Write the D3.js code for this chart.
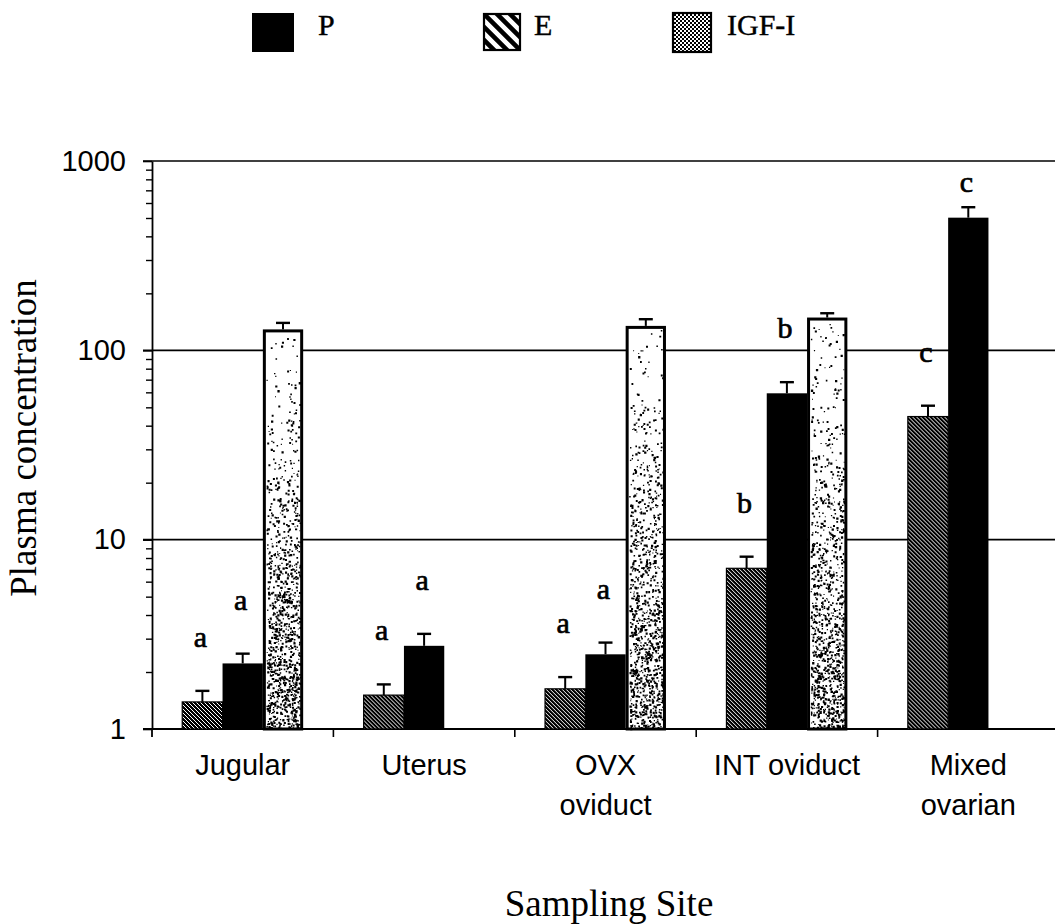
<!DOCTYPE html>
<html>
<head>
<meta charset="utf-8">
<script src="https://cdn.jsdelivr.net/npm/d3@7"></script>
<style>
  body { margin: 0; background: #fff; }
  svg { display: block; }
  text { fill: #000; }
</style>
</head>
<body>
<svg id="chart" width="1055" height="924"></svg>
<script>
// Sampling sites (x categories) and their printed labels
const siteKeys   = ["Jugular", "Uterus", "OVX oviduct", "INT oviduct", "Mixed ovarian"];
const siteLabels = [["Jugular"], ["Uterus"], ["OVX", "oviduct"], ["INT oviduct"], ["Mixed", "ovarian"]];

// Series drawn inside each group, left to right
const seriesKeys  = ["E", "P", "IGF-I"];
const legendOrder = ["P", "E", "IGF-I"];

// Estradiol (E)
const eMean    = [1.39, 1.51, 1.63, 7.06, 44.7];
const eSem     = [0.20, 0.21, 0.25, 1.07, 6.3];
const eLetters = ["a", "a", "a", "b", "c"];

// Progesterone (P)
const pMean    = [2.22, 2.75, 2.48, 59.3, 502];
const pSem     = [0.28, 0.43, 0.38, 8.6, 68];
const pLetters = ["a", "a", "a", "b", "c"];

// IGF-I (not measured at every site)
const igfMean    = [129, null, 134.6, 149, null];
const igfSem     = [10.6, null, 11.4, 8, null];
const igfLetters = [null, null, null, null, null];

// Axis ticks
const yMajorTicks = [1, 10, 100, 1000];
const yTickLabels = ["1", "10", "100", "1000"];
const yGridValues = [10, 100, 1000];

const SANS  = "'Liberation Sans', Arial, sans-serif";
const SERIF = "'Liberation Serif', 'Times New Roman', serif";

const svg = d3.select("#chart");
const W = 1055, H = 924;
const plot = { left: 152, right: 1059, top: 161, bottom: 729 };

const x = d3.scaleBand().domain(siteKeys).range([plot.left, plot.right]).paddingInner(0).paddingOuter(0);
const bw = x.bandwidth();
const xs = d3.scaleBand().domain(seriesKeys).range([bw / 6, bw * 5 / 6]);
const y = d3.scaleLog().domain([1, 1000]).range([plot.bottom, plot.top]);

const rows = siteKeys.map((k, i) => ({
  site: k,
  bars: [
    { key: "E", mean: eMean[i], sem: eSem[i], letter: eLetters[i] },
    { key: "P", mean: pMean[i], sem: pSem[i], letter: pLetters[i] },
    { key: "IGF-I", mean: igfMean[i], sem: igfSem[i], letter: igfLetters[i] }
  ].filter(b => b.mean != null)
}));

// ---------- fill patterns ----------
const defs = svg.append("defs");

// fine diagonal hatch for E bars
const hw = 4;
const hatch = defs.append("pattern").attr("id", "hatch")
  .attr("patternUnits", "userSpaceOnUse").attr("width", hw).attr("height", hw);
hatch.append("rect").attr("width", hw).attr("height", hw).attr("fill", "#fff");
hatch.append("path")
  .attr("d", `M0,0L${hw},${hw}M-1,${hw - 1}L1,${hw + 1}M${hw - 1},-1L${hw + 1},1`)
  .attr("stroke", "#000").attr("stroke-width", 1.5).attr("shape-rendering", "crispEdges");

// coarse diagonal hatch for the E legend swatch
const bigW = 13;
const hatchBig = defs.append("pattern").attr("id", "hatchBig")
  .attr("patternUnits", "userSpaceOnUse").attr("width", bigW).attr("height", bigW)
  .attr("x", 483).attr("y", 13);
hatchBig.append("rect").attr("width", bigW).attr("height", bigW).attr("fill", "#fff");
hatchBig.append("path")
  .attr("d", `M0,0L${bigW},${bigW}M-4,${bigW - 4}L4,${bigW + 4}M${bigW - 4},-4L${bigW + 4},4`)
  .attr("stroke", "#000").attr("stroke-width", 4.6);

// checker dither for the IGF-I legend swatch
const checker = defs.append("pattern").attr("id", "checker")
  .attr("patternUnits", "userSpaceOnUse").attr("width", 4).attr("height", 4);
checker.append("rect").attr("width", 4).attr("height", 4).attr("fill", "#fff");
checker.append("rect").attr("width", 2).attr("height", 2).attr("fill", "#000");
checker.append("rect").attr("x", 2).attr("y", 2).attr("width", 2).attr("height", 2).attr("fill", "#000");

// ---------- legend ----------
const legend = svg.append("g").attr("class", "legend");
const legendSlots = { "P": 252, "E": 483, "IGF-I": 672 };
legendOrder.forEach(k => {
  const lx = legendSlots[k];
  const g = legend.append("g");
  if (k === "P") {
    g.append("rect").attr("x", lx).attr("y", 13).attr("width", 42).attr("height", 39).attr("fill", "#000");
    g.append("text").attr("x", lx + 66).attr("y", 35);
  } else if (k === "E") {
    g.append("rect").attr("x", lx + 1).attr("y", 14).attr("width", 36).attr("height", 36)
      .attr("fill", "url(#hatchBig)").attr("stroke", "#000").attr("stroke-width", 2.2);
    g.append("text").attr("x", lx + 51).attr("y", 35);
  } else {
    g.append("rect").attr("x", lx + 1).attr("y", 13).attr("width", 38).attr("height", 39)
      .attr("fill", "url(#checker)").attr("stroke", "#000").attr("stroke-width", 2.2);
    g.append("text").attr("x", lx + 55).attr("y", 35);
  }
  g.select("text").text(k).attr("font-family", SERIF).attr("font-size", 30)
    .attr("stroke", "#000").attr("stroke-width", 0.4);
});

// ---------- grid lines ----------
svg.append("g").selectAll("line").data(yGridValues).join("line")
  .attr("x1", plot.left - 9).attr("x2", W)
  .attr("y1", d => y(d)).attr("y2", d => y(d))
  .attr("stroke", "#000").attr("stroke-width", 1.6);

// ---------- y axis ----------
const minorTicks = [];
[1, 10, 100].forEach(dec => { for (let m = 2; m <= 9; m++) minorTicks.push(dec * m); });

const yAxisMajor = d3.axisLeft(y).tickValues(yMajorTicks).tickSize(9).tickSizeOuter(0)
  .tickFormat((d, i) => yTickLabels[i]).tickPadding(17);
const gy = svg.append("g").attr("transform", `translate(${plot.left},0)`).call(yAxisMajor);
gy.select(".domain").attr("stroke-width", 1.8);
gy.selectAll(".tick line").attr("stroke-width", 1.6);
gy.selectAll(".tick text").attr("font-family", SANS).attr("font-size", 29).attr("fill", "#000");

const gyMinor = svg.append("g").attr("transform", `translate(${plot.left},0)`)
  .call(d3.axisLeft(y).tickValues(minorTicks).tickSize(6).tickSizeOuter(0).tickFormat(""));
gyMinor.select(".domain").remove();
gyMinor.selectAll(".tick line").attr("stroke-width", 1.4);

// axis extends a little below the base line
svg.append("line").attr("x1", plot.left).attr("x2", plot.left)
  .attr("y1", y(1)).attr("y2", y(1) + 8).attr("stroke", "#000").attr("stroke-width", 1.8);

// ---------- x axis ----------
svg.append("line").attr("x1", plot.left - 9).attr("x2", W)
  .attr("y1", y(1)).attr("y2", y(1)).attr("stroke", "#000").attr("stroke-width", 1.8);
svg.append("g").selectAll("line").data(siteKeys.slice(1)).join("line")
  .attr("x1", d => x(d)).attr("x2", d => x(d))
  .attr("y1", y(1)).attr("y2", y(1) + 8)
  .attr("stroke", "#000").attr("stroke-width", 1.6);

const xl = svg.append("g").selectAll("text").data(siteKeys).join("text")
  .attr("text-anchor", "middle").attr("font-family", SANS).attr("font-size", 29)
  .attr("transform", d => `translate(${x(d) + bw / 2},${y(1) + 46})`);
xl.each(function (d, i) {
  d3.select(this).selectAll("tspan").data(siteLabels[i]).join("tspan")
    .attr("x", 0).attr("y", (t, j) => j * 40).text(t => t);
});

// ---------- bars ----------
// simple seeded generator for the stipple texture
let seed = 20240611;
function rnd() { seed = (seed * 1664525 + 1013904223) >>> 0; return seed / 4294967296; }

const groups = svg.append("g").selectAll("g").data(rows).join("g")
  .attr("transform", d => `translate(${x(d.site)},0)`);

groups.each(function (row) {
  const g = d3.select(this);
  row.bars.forEach(b => {
    const bx = xs(b.key), w = xs.bandwidth();
    const top = y(b.mean), base = y(1);
    if (b.key === "P") {
      g.append("rect").attr("x", bx).attr("y", top).attr("width", w).attr("height", base - top).attr("fill", "#000");
    } else if (b.key === "E") {
      g.append("rect").attr("x", bx).attr("y", top).attr("width", w).attr("height", base - top)
        .attr("fill", "url(#hatch)").attr("stroke", "#000").attr("stroke-width", 1.2);
    } else {
      g.append("rect").attr("x", bx + 1.5).attr("y", top + 1.5).attr("width", w - 3).attr("height", base - top - 1.5)
        .attr("fill", "#fff");
      // stipple: sparse near the top, dense toward the base
      let d = "";
      const ix0 = bx + 3.5, iw = w - 7, iy0 = top + 4, ih = base - top - 5;
      const n = Math.round(iw * ih * 0.2);
      for (let k = 0; k < n; k++) {
        const px = ix0 + rnd() * iw, t = rnd(), py = iy0 + t * ih;
        const dens = 0.05 + 0.95 * Math.pow(t, 1.6);
        if (rnd() > dens) continue;
        const s = 1 + rnd() * 1.3;
        d += `M${px.toFixed(1)},${py.toFixed(1)}h${s.toFixed(1)}v${s.toFixed(1)}h${(-s).toFixed(1)}z`;
      }
      g.append("path").attr("d", d).attr("fill", "#000");
      g.append("rect").attr("x", bx + 1.5).attr("y", top + 1.5).attr("width", w - 3).attr("height", base - top - 1.5)
        .attr("fill", "none").attr("stroke", "#000").attr("stroke-width", 3);
    }
    // error bar (mean + SEM)
    const cx = bx + w / 2, eTop = y(b.mean + b.sem);
    g.append("line").attr("x1", cx).attr("x2", cx).attr("y1", top).attr("y2", eTop)
      .attr("stroke", "#000").attr("stroke-width", 2);
    g.append("line").attr("x1", cx - 7).attr("x2", cx + 7).attr("y1", eTop).attr("y2", eTop)
      .attr("stroke", "#000").attr("stroke-width", 2.4);
    // significance letter
    if (b.letter) {
      const ly = Math.max(eTop - 44, plot.top + 31);
      g.append("text").attr("x", cx - 2).attr("y", ly).attr("text-anchor", "middle")
        .attr("font-family", SERIF).attr("font-size", 30)
        .attr("stroke", "#000").attr("stroke-width", 0.7).text(b.letter);
    }
  });
});

// ---------- axis titles ----------
svg.append("text").attr("transform", "translate(36,438) rotate(-90)")
  .attr("text-anchor", "middle").attr("font-family", SERIF).attr("font-size", 37)
  .text("Plasma concentration");
svg.append("text").attr("x", 609).attr("y", 916).attr("text-anchor", "middle")
  .attr("font-family", SERIF).attr("font-size", 37).text("Sampling Site");
</script>
</body>
</html>
